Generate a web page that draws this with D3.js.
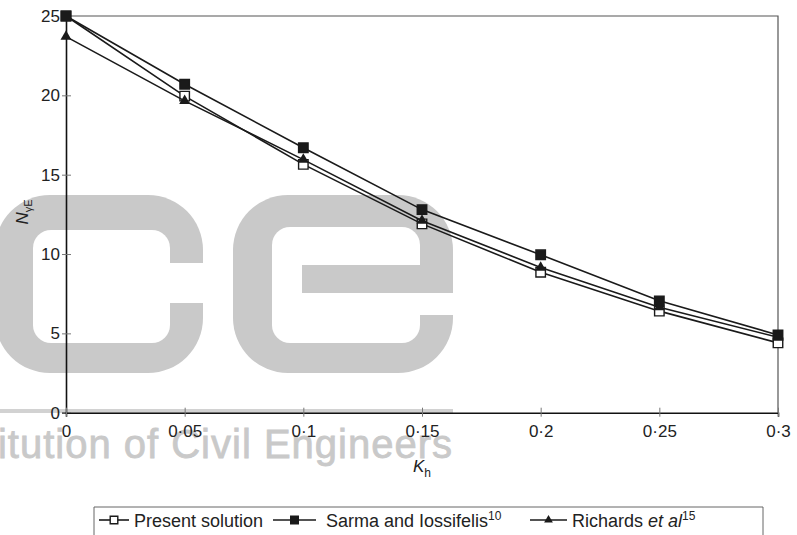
<!DOCTYPE html>
<html>
<head>
<meta charset="utf-8">
<script src="https://cdn.jsdelivr.net/npm/d3@7"></script>
<style>
  body { margin: 0; background: #fff; }
  svg { display: block; font-family: 'Liberation Sans', Arial, sans-serif; }
</style>
</head>
<body>
<div id="chart"></div>
<script>
const kh = [0, 0.05, 0.1, 0.15, 0.2, 0.25, 0.3];
const xTickLabels = ['0', '0·05', '0·1', '0·15', '0·2', '0·25', '0·3'];
const yTicks = [0, 5, 10, 15, 20, 25];
const presentSolution = [25.0, 19.95, 15.65, 11.9, 8.85, 6.4, 4.4];
const sarmaIossifelis = [25.0, 20.7, 16.7, 12.8, 9.95, 7.05, 4.9];
const richardsEtAl = [23.7, 19.65, 15.95, 12.1, 9.15, 6.65, 4.75];

const seriesNames = ['Present solution', 'Sarma and Iossifelis', 'Richards '];
const seriesSup = ['', '10', '15'];

displayChart();

function displayChart() {
  const width = 797;
  const height = 535;
  const plot = { left: 66, right: 778, top: 16, bottom: 412.7 };

  const svg = d3.select('#chart').append('svg')
      .attr('width', width)
      .attr('height', height);

  drawWatermark(svg);

  const x = d3.scaleLinear().domain([0, 0.3]).range([plot.left, plot.right]);
  const y = d3.scaleLinear().domain([0, 25]).range([plot.bottom, plot.top]);

  // frame (top and right)
  svg.append('path')
      .attr('d', `M${plot.left},${plot.top}H${plot.right}V${plot.bottom}`)
      .attr('fill', 'none')
      .attr('stroke', '#555')
      .attr('stroke-width', 1.2);

  // y axis
  const yAxis = svg.append('g')
      .attr('transform', `translate(${plot.left},0)`)
      .call(d3.axisLeft(y).tickValues(yTicks).tickSize(4).tickPadding(3));
  yAxis.select('.domain').attr('stroke', '#111').attr('stroke-width', 1.6);
  yAxis.selectAll('.tick line').attr('x1', 5).attr('stroke', '#777');
  yAxis.selectAll('.tick text')
      .attr('x', -6)
      .style('font-size', '17px')
      .attr('fill', '#222');

  // x axis
  const xAxis = svg.append('g')
      .attr('transform', `translate(0,${plot.bottom})`)
      .call(d3.axisBottom(x).tickValues(kh).tickSize(4)
          .tickFormat((d, i) => xTickLabels[i]));
  xAxis.select('.domain').attr('stroke', '#111').attr('stroke-width', 1.6);
  xAxis.selectAll('.tick line').attr('y1', -5).attr('stroke', '#777');
  xAxis.selectAll('.tick text')
      .attr('y', 12)
      .style('font-size', '17px')
      .attr('fill', '#222');

  // axis titles
  const xTitle = svg.append('text')
      .attr('x', 422)
      .attr('y', 472)
      .attr('text-anchor', 'middle')
      .style('font-size', '17px')
      .attr('fill', '#222');
  xTitle.append('tspan').text('K').style('font-style', 'italic');
  xTitle.append('tspan').text('h').attr('dy', 5).style('font-size', '12px');

  const yTitle = svg.append('text')
      .attr('transform', 'translate(28,212) rotate(-90)')
      .attr('text-anchor', 'middle')
      .style('font-size', '17px')
      .attr('fill', '#222');
  yTitle.append('tspan').text('N').style('font-style', 'italic');
  yTitle.append('tspan').text('γE').attr('dy', 4).style('font-size', '11px');

  // series
  const allSeries = [
    { values: presentSolution, marker: 'openSquare' },
    { values: sarmaIossifelis, marker: 'square' },
    { values: richardsEtAl, marker: 'triangle' }
  ];
  const line = d3.line().x((d, i) => x(kh[i])).y(d => y(d));

  allSeries.forEach(s => {
    svg.append('path')
        .datum(s.values)
        .attr('d', line)
        .attr('fill', 'none')
        .attr('stroke', '#1a1a1a')
        .attr('stroke-width', 1.6);
    svg.append('g').selectAll('path')
        .data(s.values)
        .join('path')
        .attr('transform', (d, i) => `translate(${x(kh[i])},${y(d)})`)
        .call(drawMarker, s.marker, 1);
  });

  drawLegend(svg, allSeries);
}

function drawMarker(sel, type, scale) {
  if (type === 'triangle') {
    sel.attr('d', d3.symbol(d3.symbolTriangle, 52 * scale * scale)())
        .attr('fill', '#1a1a1a');
  } else {
    sel.attr('d', d3.symbol(d3.symbolSquare, 90 * scale * scale)())
        .attr('fill', type === 'square' ? '#1a1a1a' : '#fff')
        .attr('stroke', '#1a1a1a')
        .attr('stroke-width', 1.4);
  }
}

function drawLegend(svg, allSeries) {
  const box = { left: 94, right: 763, top: 507 };
  svg.append('path')
      .attr('d', `M${box.left},540V${box.top}H${box.right}V540`)
      .attr('fill', 'none')
      .attr('stroke', '#666')
      .attr('stroke-width', 1);

  const items = [
    { line: [99, 129], text: 134 },
    { line: [273, 316], text: 326 },
    { line: [530, 567], text: 572 }
  ];
  const ly = 520;
  items.forEach((it, i) => {
    svg.append('line')
        .attr('x1', it.line[0]).attr('x2', it.line[1])
        .attr('y1', ly).attr('y2', ly)
        .attr('stroke', '#1a1a1a')
        .attr('stroke-width', 1.6);
    svg.append('path')
        .attr('transform', `translate(${(it.line[0] + it.line[1]) / 2},${ly})`)
        .call(drawMarker, allSeries[i].marker, 0.8);
    const t = svg.append('text')
        .attr('x', it.text)
        .attr('y', 527)
        .style('font-size', '18px')
        .attr('fill', '#222');
    t.append('tspan').text(seriesNames[i]);
    if (i === 2) t.append('tspan').text('et al').style('font-style', 'italic');
    if (seriesSup[i]) {
      t.append('tspan').text(seriesSup[i]).attr('dy', -7).style('font-size', '12px');
    }
  });
}

function drawWatermark(svg) {
  const grey = '#c9c9c9';
  const wm = svg.append('g');
  // letter c
  wm.append('rect').attr('x', -5).attr('y', 195).attr('width', 208).attr('height', 178)
      .attr('rx', 55).attr('fill', grey);
  wm.append('rect').attr('x', 33).attr('y', 230).attr('width', 137).attr('height', 113)
      .attr('rx', 18).attr('fill', '#fff');
  wm.append('rect').attr('x', 160).attr('y', 263).attr('width', 50).attr('height', 40)
      .attr('fill', '#fff');
  // letter e
  wm.append('rect').attr('x', 233).attr('y', 195).attr('width', 220).attr('height', 178)
      .attr('rx', 55).attr('fill', grey);
  wm.append('rect').attr('x', 272).attr('y', 227).attr('width', 148).attr('height', 116)
      .attr('rx', 18).attr('fill', '#fff');
  wm.append('rect').attr('x', 302).attr('y', 265).attr('width', 151).attr('height', 28)
      .attr('fill', grey);
  wm.append('rect').attr('x', 415).attr('y', 293).attr('width', 45).attr('height', 22)
      .attr('fill', '#fff');
  // rule and name
  wm.append('rect').attr('x', 0).attr('y', 409).attr('width', 453).attr('height', 4)
      .attr('fill', '#d2d2d2');
  wm.append('text')
      .attr('x', 453)
      .attr('y', 458)
      .attr('text-anchor', 'end')
      .style('font-size', '40px')
      .style('letter-spacing', '1px')
      .attr('fill', grey)
      .attr('stroke', grey)
      .attr('stroke-width', 0.8)
      .text('Institution of Civil Engineers');
}
</script>
</body>
</html>
